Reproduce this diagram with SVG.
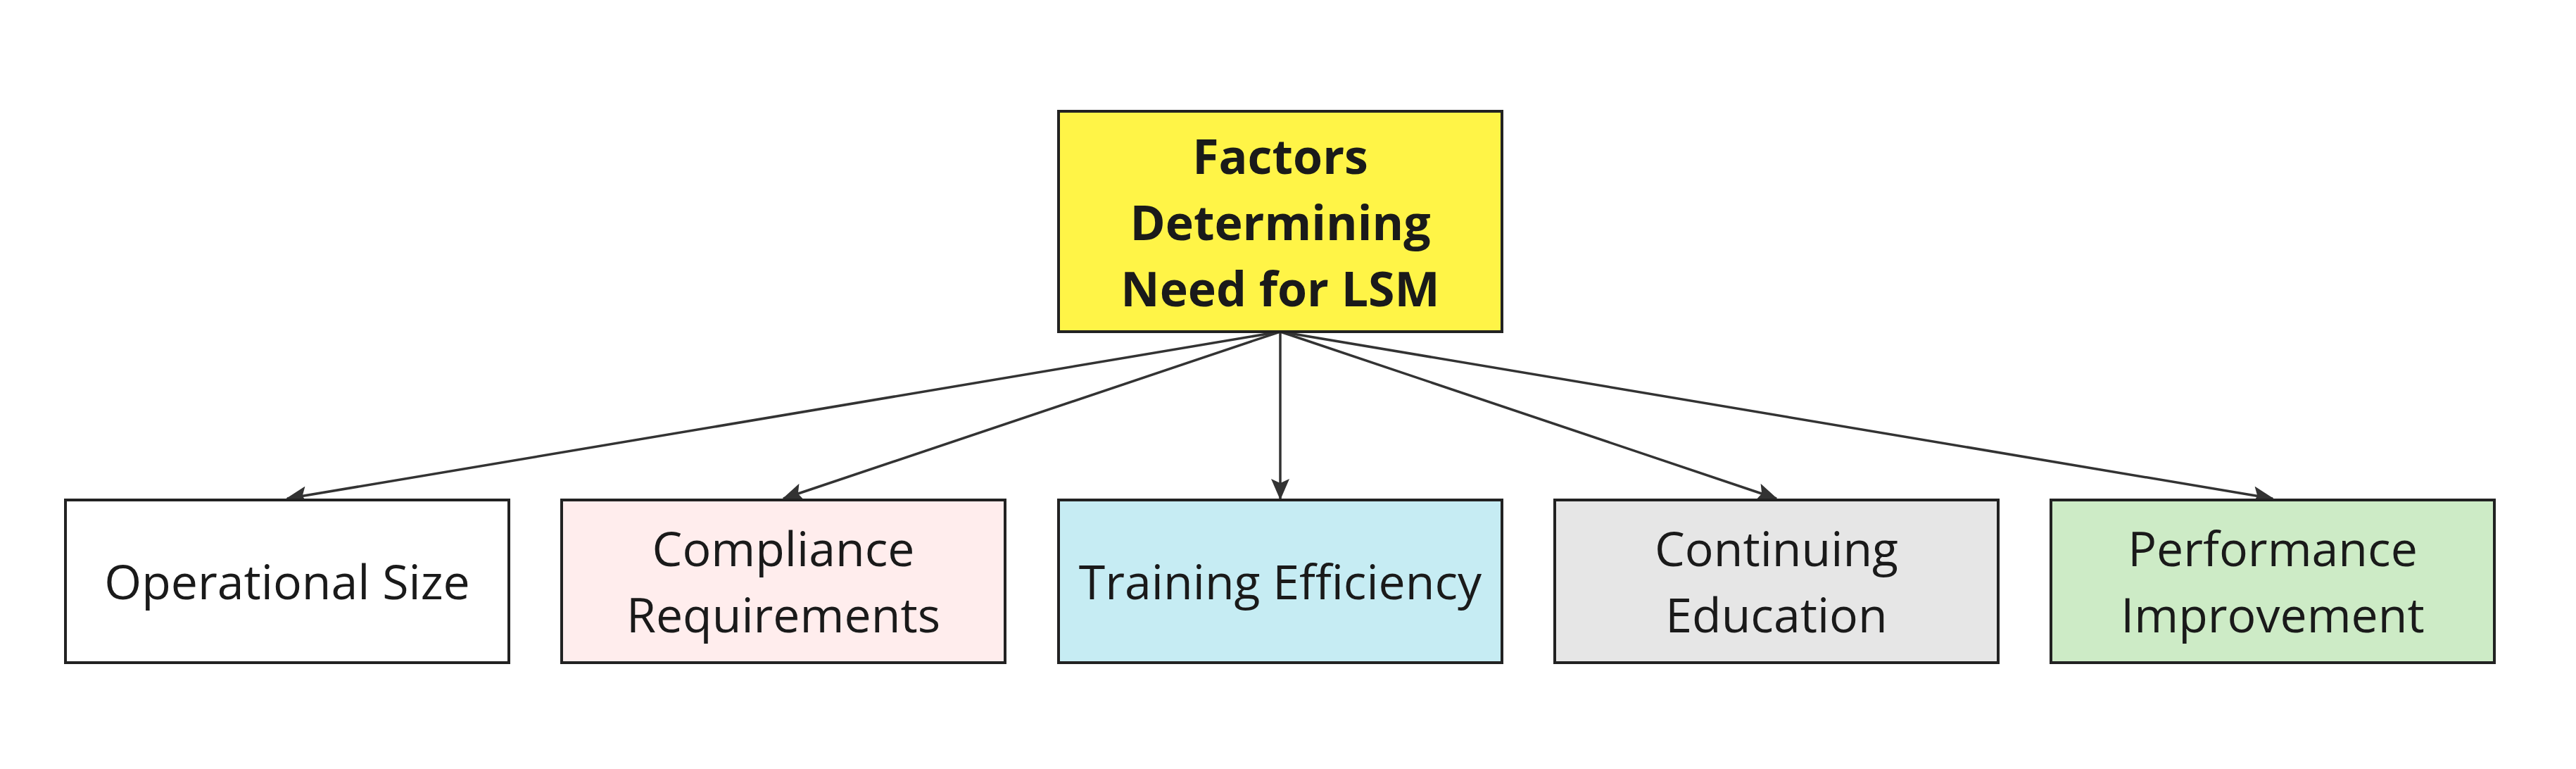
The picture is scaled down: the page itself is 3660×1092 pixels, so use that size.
<svg xmlns="http://www.w3.org/2000/svg" width="3660" height="1092" viewBox="0 0 3660 1092">
<style>
.box{stroke:#222;stroke-width:4}
.t{font-family:"Open Sans","Noto Sans",sans-serif;font-size:68px;fill:#1a1a1a;text-anchor:middle}
.b{font-weight:bold}
.edge{stroke:#333;stroke-width:3.5;fill:none;marker-end:url(#arr)}
</style>
<defs>
<marker id="arr" markerUnits="userSpaceOnUse" markerWidth="30" markerHeight="26" refX="28" refY="13" orient="auto" viewBox="0 0 30 26">
<path d="M0,0 L30,13 L0,26 L6,13 z" fill="#333"/>
</marker>
</defs>
<rect width="3660" height="1092" fill="#fff"/>
<g id="edges">
<line class="edge" x1="1819" y1="471" x2="408" y2="708"/>
<line class="edge" x1="1819" y1="471" x2="1113" y2="708"/>
<line class="edge" x1="1819" y1="471" x2="1819" y2="708"/>
<line class="edge" x1="1819" y1="471" x2="2524" y2="708"/>
<line class="edge" x1="1819" y1="471" x2="3229" y2="708"/>
</g>
<g id="root">
<rect class="box" x="1504" y="158" width="630" height="313" fill="#fff447"/>
<text class="t b" x="1819" y="247">Factors</text>
<text class="t b" x="1819" y="341">Determining</text>
<text class="t b" x="1819" y="435">Need for LSM</text>
</g>
<g id="operational">
<rect class="box" x="93" y="710" width="630" height="231" fill="#ffffff"/>
<text class="t" x="408" y="851">Operational Size</text>
</g>
<g id="compliance">
<rect class="box" x="798" y="710" width="630" height="231" fill="#ffeded"/>
<text class="t" x="1113" y="804">Compliance</text>
<text class="t" x="1113" y="898">Requirements</text>
</g>
<g id="training">
<rect class="box" x="1504" y="710" width="630" height="231" fill="#c6ecf3"/>
<text class="t" x="1819" y="851">Training Efficiency</text>
</g>
<g id="continuing">
<rect class="box" x="2209" y="710" width="630" height="231" fill="#e6e6e6"/>
<text class="t" x="2524" y="804">Continuing</text>
<text class="t" x="2524" y="898">Education</text>
</g>
<g id="performance">
<rect class="box" x="2914" y="710" width="630" height="231" fill="#cdebc6"/>
<text class="t" x="3229" y="804">Performance</text>
<text class="t" x="3229" y="898">Improvement</text>
</g>
</svg>
